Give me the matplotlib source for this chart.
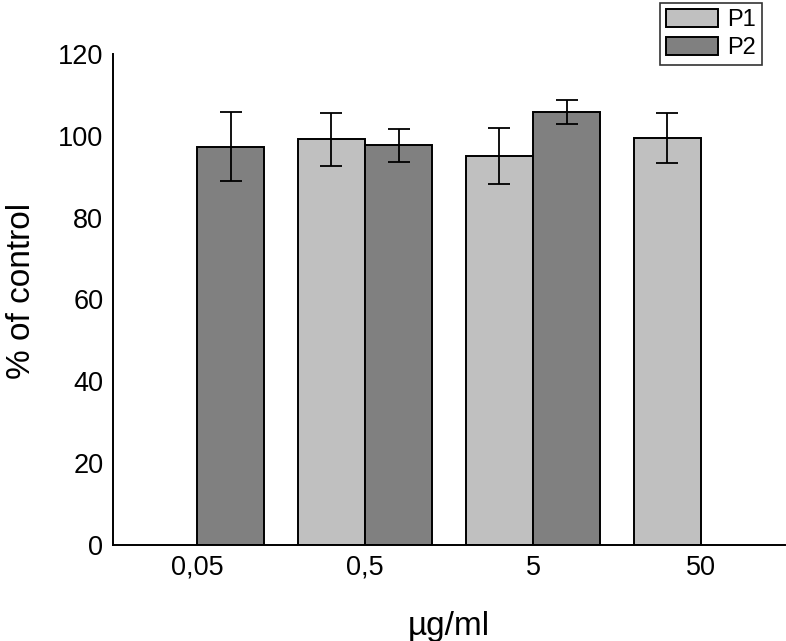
import matplotlib.pyplot as plt
import numpy as np

plt.rcParams['font.family'] = ['Liberation Sans', 'DejaVu Sans']

concentrations = ["0,05", "0,5", "5", "50"]
p1_values = [np.nan, 99.1, 95.0, 99.5]
p1_errors = [np.nan, 6.5, 6.8, 6.1]
p2_values = [97.3, 97.7, 105.8, np.nan]
p2_errors = [8.4, 4.0, 3.0, np.nan]

fig = plt.figure(figsize=(7.86, 6.41), dpi=100)
ax = fig.add_axes([0.1438, 0.1498, 0.8549, 0.766])

x = np.arange(len(concentrations))
width = 0.4
err_kw = dict(ecolor="black", elinewidth=1.3, capsize=8, capthick=1.3)
ax.bar(x - width / 2, p1_values, width, yerr=p1_errors, color="#c0c0c0",
       edgecolor="black", linewidth=1.4, label="P1", error_kw=err_kw)
ax.bar(x + width / 2, p2_values, width, yerr=p2_errors, color="#808080",
       edgecolor="black", linewidth=1.4, label="P2", error_kw=err_kw)

ax.set_xlim(-0.5, 3.5)
ax.set_ylim(0, 120)
ax.set_yticks(range(0, 121, 20))
ax.set_xticks(x)
ax.set_xticklabels(concentrations)
ax.tick_params(axis="both", length=0, labelsize=19.5)
ax.tick_params(axis="x", pad=7)
ax.tick_params(axis="y", pad=7)
for side in ("top", "right"):
    ax.spines[side].set_visible(False)
for side in ("left", "bottom"):
    ax.spines[side].set_linewidth(1.4)

ax.set_xlabel("µg/ml", fontsize=24, labelpad=22)
ax.set_ylabel("% of control", fontsize=24)
ax.yaxis.set_label_coords(-0.113, 0.517)

leg = fig.legend(loc="upper right", bbox_to_anchor=(762 / 786, 1 - 3 / 641),
                 fontsize=17, frameon=True, fancybox=False, edgecolor="black",
                 handlelength=2.2, handleheight=0.8, handletextpad=0.4,
                 borderpad=0.25, labelspacing=0.25, borderaxespad=0)
leg.get_frame().set_linewidth(1.2)

fig.savefig("out.png", dpi=100)
